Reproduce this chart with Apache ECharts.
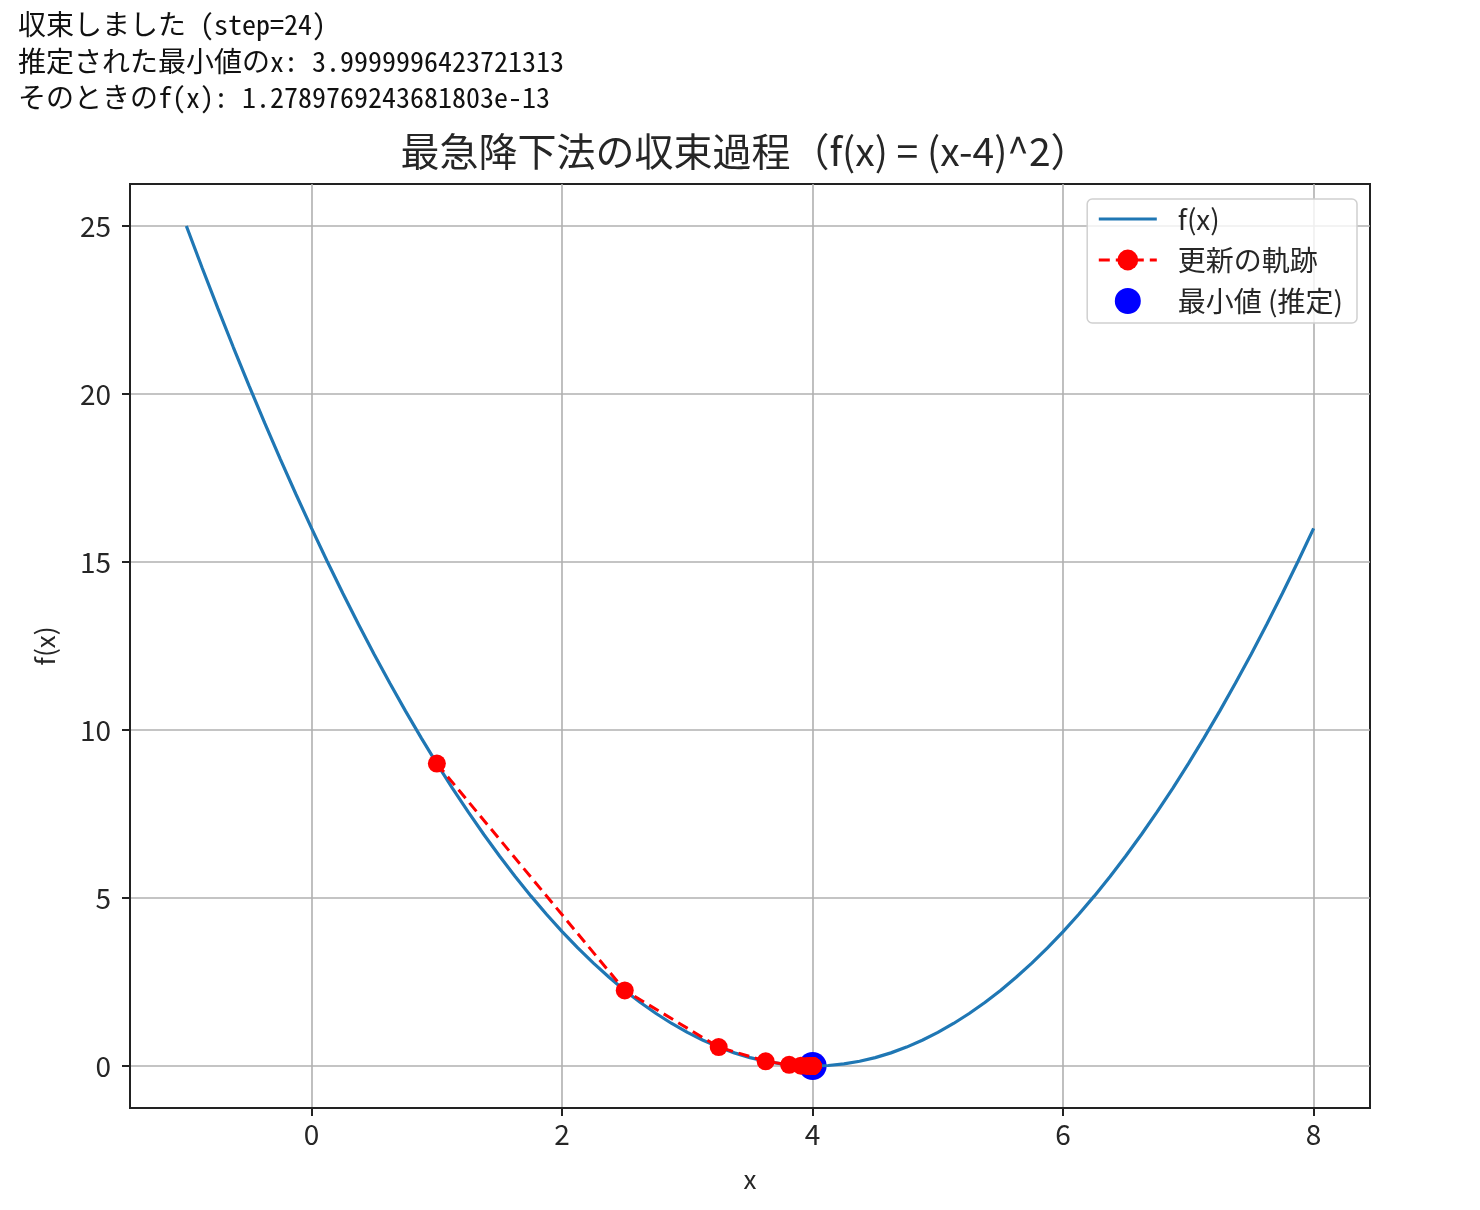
<!DOCTYPE html>
<html>
<head>
<meta charset="utf-8">
<script src="https://cdn.jsdelivr.net/npm/echarts@6/dist/echarts.min.js"></script>
<style>
  html, body { margin: 0; padding: 0; background: #fff; }
  #out { position: absolute; left: 18px; top: 5px; font-family: "Noto Sans Mono CJK JP", "DejaVu Sans Mono", "Noto Sans CJK JP", monospace; font-size: 28px; line-height: 36.5px; color: #111; white-space: pre; }
  #chart { position: absolute; left: 0; top: 0; width: 1480px; height: 1210px; }
</style>
</head>
<body>
<div id="chart"></div>
<div id="out"></div>
<script>
// ---- text output ----
const outputLines = [
  "収束しました (step=24)",
  "推定された最小値のx: 3.9999996423721313",
  "そのときのf(x): 1.2789769243681803e-13"
];

// ---- data ----
const curveX = [-1, -0.875, -0.75, -0.625, -0.5, -0.375, -0.25, -0.125, 0, 0.125, 0.25, 0.375, 0.5, 0.625, 0.75, 0.875, 1, 1.125, 1.25, 1.375, 1.5, 1.625, 1.75, 1.875, 2, 2.125, 2.25, 2.375, 2.5, 2.625, 2.75, 2.875, 3, 3.125, 3.25, 3.375, 3.5, 3.625, 3.75, 3.875, 4, 4.125, 4.25, 4.375, 4.5, 4.625, 4.75, 4.875, 5, 5.125, 5.25, 5.375, 5.5, 5.625, 5.75, 5.875, 6, 6.125, 6.25, 6.375, 6.5, 6.625, 6.75, 6.875, 7, 7.125, 7.25, 7.375, 7.5, 7.625, 7.75, 7.875, 8];
const curveY = [25, 23.765625, 22.5625, 21.390625, 20.25, 19.140625, 18.0625, 17.015625, 16, 15.015625, 14.0625, 13.140625, 12.25, 11.390625, 10.5625, 9.765625, 9, 8.265625, 7.5625, 6.890625, 6.25, 5.640625, 5.0625, 4.515625, 4, 3.515625, 3.0625, 2.640625, 2.25, 1.890625, 1.5625, 1.265625, 1, 0.765625, 0.5625, 0.390625, 0.25, 0.140625, 0.0625, 0.015625, 0, 0.015625, 0.0625, 0.140625, 0.25, 0.390625, 0.5625, 0.765625, 1, 1.265625, 1.5625, 1.890625, 2.25, 2.640625, 3.0625, 3.515625, 4, 4.515625, 5.0625, 5.640625, 6.25, 6.890625, 7.5625, 8.265625, 9, 9.765625, 10.5625, 11.390625, 12.25, 13.140625, 14.0625, 15.015625, 16];

const pathX = [1, 2.5, 3.25, 3.625, 3.8125, 3.90625, 3.953125, 3.9765625, 3.98828125, 3.994140625, 3.9970703125, 3.99853515625, 3.999267578125, 3.9996337890625, 3.99981689453125, 3.999908447265625, 3.9999542236328125, 3.9999771118164062, 3.999988555908203, 3.9999942779541016, 3.999997138977051, 3.9999985694885254, 3.9999992847442627, 3.9999996423721313];
const pathY = [9, 2.25, 0.5625, 0.140625, 0.03515625, 0.0087890625, 0.002197265625, 0.00054931640625, 0.0001373291015625, 3.4332275390625e-5, 8.58306884765625e-6, 2.1457672119140625e-6, 5.364418029785156e-7, 1.341104507446289e-7, 3.3527612686157227e-8, 8.381903171539307e-9, 2.0954757928848267e-9, 5.238689482212067e-10, 1.3096723705530167e-10, 3.274180926382542e-11, 8.185452315956354e-12, 2.0463630789890885e-12, 5.115907697472721e-13, 1.2789769243681803e-13];

const minX = 3.9999996423721313;
const minY = 1.2789769243681803e-13;

const xTicks = [0, 2, 4, 6, 8];
const yTicks = [0, 5, 10, 15, 20, 25];

const titleText = "最急降下法の収束過程（f(x) = (x-4)^2）";
const seriesNames = ["f(x)", "更新の軌跡", "最小値 (推定)"];

document.getElementById('out').textContent = outputLines.join("\n");

const zip = (a, b) => a.map((v, i) => [v, b[i]]);
const FONT = '"Noto Sans CJK JP", "DejaVu Sans", sans-serif';
const TXT = '#262626';

const chart = echarts.init(document.getElementById('chart'), null, { renderer: 'canvas' });
chart.setOption({
  animation: false,
  backgroundColor: '#fff',
  textStyle: { fontFamily: FONT },
  title: {
    text: titleText,
    left: 740, top: 127, textAlign: 'center',
    textStyle: { fontFamily: FONT, fontSize: 39, fontWeight: 'normal', color: TXT }
  },
  grid: {
    left: 130, top: 184, right: 110, bottom: 102,
    show: true, borderColor: '#222', borderWidth: 2, backgroundColor: 'transparent'
  },
  legend: {
    orient: 'vertical',
    right: 123, top: 199,
    backgroundColor: 'rgba(255,255,255,0.8)',
    borderColor: '#d0d0d0', borderWidth: 1.5, borderRadius: 5,
    padding: [6, 14, 8, 10],
    itemWidth: 58, itemHeight: 26, itemGap: 13,
    lineStyle: { width: 3.2 },
    textStyle: { fontFamily: FONT, fontSize: 28, color: TXT, padding: [0, 0, 0, 16] },
    data: [
      { name: seriesNames[0], itemStyle: { opacity: 0 } },
      { name: seriesNames[1] },
      { name: seriesNames[2], icon: 'circle' }
    ]
  },
  xAxis: {
    type: 'value', min: -1.45, max: 8.45,
    name: 'x', nameLocation: 'middle', nameGap: 58,
    nameTextStyle: { fontFamily: FONT, fontSize: 26, color: TXT },
    axisLine: { show: true, onZero: false, lineStyle: { color: '#222', width: 2 } },
    axisTick: { show: true, inside: false, length: 8, customValues: xTicks, lineStyle: { color: '#222', width: 2 } },
    axisLabel: { customValues: xTicks, fontFamily: FONT, fontSize: 28, color: TXT, margin: 12 },
    splitLine: { show: true, lineStyle: { color: '#b0b0b0', width: 1.6 } }
  },
  yAxis: {
    type: 'value', min: -1.25, max: 26.25,
    name: 'f(x)', nameLocation: 'middle', nameGap: 72,
    nameTextStyle: { fontFamily: FONT, fontSize: 26, color: TXT },
    axisLine: { show: true, onZero: false, lineStyle: { color: '#222', width: 2 } },
    axisTick: { show: true, inside: false, length: 8, customValues: yTicks, lineStyle: { color: '#222', width: 2 } },
    axisLabel: { customValues: yTicks, fontFamily: FONT, fontSize: 28, color: TXT, margin: 19 },
    splitLine: { show: true, lineStyle: { color: '#b0b0b0', width: 1.6 } }
  },
  series: [
    {
      name: seriesNames[0], type: 'line', data: zip(curveX, curveY),
      showSymbol: false, symbol: 'none', z: 2,
      lineStyle: { color: '#1f77b4', width: 3.2 },
      itemStyle: { color: '#1f77b4' }
    },
    {
      name: seriesNames[2], type: 'scatter', data: [[minX, minY]],
      symbol: 'circle', symbolSize: 28, z: 1,
      itemStyle: { color: 'blue', opacity: 1 }
    },
    {
      name: seriesNames[1], type: 'line', data: zip(pathX, pathY),
      symbol: 'circle', symbolSize: 18, showSymbol: true, showAllSymbol: true, z: 3,
      lineStyle: { color: 'red', width: 3, type: [11, 6] },
      itemStyle: { color: 'red', borderWidth: 0 }
    }
  ]
});
</script>
</body>
</html>
